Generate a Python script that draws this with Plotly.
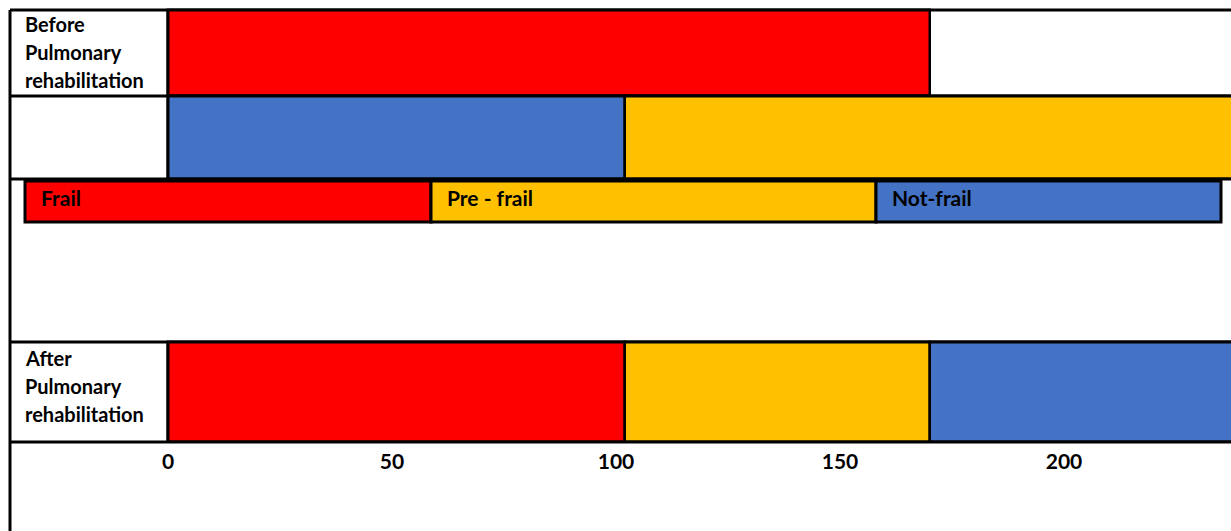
import plotly.graph_objects as go

# ---- data ----
categories = ["Frail", "Pre - frail", "Not-frail"]
colors = {"Frail": "#FF0000", "Pre - frail": "#FFC000", "Not-frail": "#4472C4"}

row_names = ["Before Pulmonary rehabilitation", "", "After Pulmonary rehabilitation"]
row_segments = [["Frail"], ["Not-frail", "Pre - frail"], ["Frail", "Pre - frail", "Not-frail"]]
row_values = [[170], [102, 140], [102, 68, 72]]

tick_values = [0, 50, 100, 150, 200]
tick_labels = ["0", "50", "100", "150", "200"]

# ---- layout constants (pixels) ----
W, H = 1231, 531
ZERO_PX = 168
PX_PER_UNIT = (1064 - 168) / 200.0
row_top = [10, 96, 342]
row_bottom = [96, 179, 442]

FONT = "Lato"

def px(p):
    return p / W

fig = go.Figure()

for r, (segs, vals) in enumerate(zip(row_segments, row_values)):
    center = (row_top[r] + row_bottom[r]) / 2
    height = row_bottom[r] - row_top[r]
    base = 0
    for s, v in zip(segs, vals):
        fig.add_trace(go.Bar(
            orientation="h", y=[center], x=[v], base=[base], width=[height],
            marker=dict(color=colors[s], line=dict(color="black", width=2.5)),
            name=s, showlegend=False, hoverinfo="skip",
        ))
        base += v

shapes = []
line = dict(color="black", width=3)
# outer frame
shapes.append(dict(type="line", xref="paper", yref="y", x0=px(10), x1=1.01, y0=10, y1=10, line=line))
shapes.append(dict(type="line", xref="paper", yref="y", x0=px(10), x1=px(10), y0=10, y1=540, line=line))
# horizontal row lines
for yy in [96, 179, 342, 442]:
    shapes.append(dict(type="line", xref="paper", yref="y", x0=px(10), x1=1.01, y0=yy, y1=yy, line=line))
# vertical cell dividers
for t, b in [(10, 179), (342, 442)]:
    shapes.append(dict(type="line", xref="paper", yref="y", x0=px(168), x1=px(168), y0=t, y1=b, line=line))

# legend row (table cells)
legend_edges = [25, 431, 876, 1221]
annotations = []
for i, c in enumerate(categories):
    shapes.append(dict(type="rect", xref="paper", yref="y",
                       x0=px(legend_edges[i]), x1=px(legend_edges[i + 1]), y0=181, y1=222,
                       fillcolor=colors[c], line=dict(color="black", width=3), layer="above"))
    annotations.append(dict(xref="paper", yref="y", x=px(legend_edges[i] + 14), y=197,
                            text="<b>%s</b>" % c, showarrow=False, xanchor="left", yanchor="middle",
                            font=dict(family=FONT, size=21, color="black")))

# row labels
label_lines_y = {0: [24, 52, 80], 2: [358, 386, 414]}
for r, name in enumerate(row_names):
    if not name:
        continue
    words = name.split(" ")
    for w, yy in zip(words, label_lines_y[r]):
        annotations.append(dict(xref="paper", yref="y", x=px(23), y=yy, text="<b>%s</b>" % w,
                                showarrow=False, xanchor="left", yanchor="middle",
                                font=dict(family=FONT, size=20, color="black")))

fig.update_layout(
    width=W, height=H, margin=dict(l=0, r=0, t=0, b=0),
    paper_bgcolor="white", plot_bgcolor="white",
    barmode="overlay", bargap=0,
    shapes=shapes, annotations=annotations,
    xaxis=dict(range=[-ZERO_PX / PX_PER_UNIT, (W - ZERO_PX) / PX_PER_UNIT],
               tickvals=tick_values, ticktext=["<b>%s</b>" % t for t in tick_labels],
               tickfont=dict(family=FONT, size=21, color="black"),
               showgrid=False, zeroline=False, showline=False, ticks="",
               anchor="free", position=(H - 442) / H, ticklabelstandoff=5,
               fixedrange=True),
    yaxis=dict(range=[H, 0], visible=False, showgrid=False, zeroline=False, fixedrange=True),
    showlegend=False,
)

fig.write_html("out.html")
